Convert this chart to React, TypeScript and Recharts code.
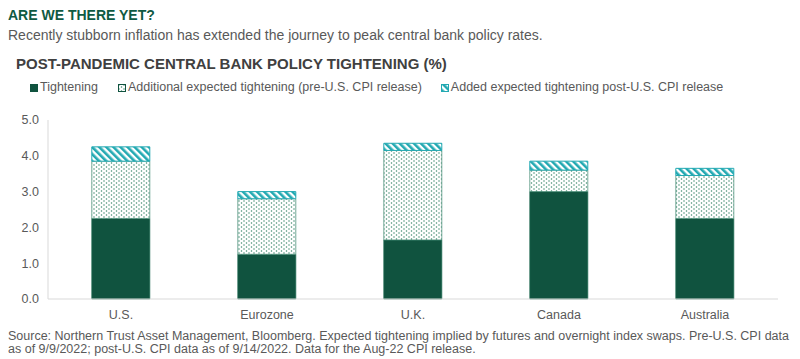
import { Bar, BarChart, XAxis, YAxis } from 'recharts'

const countries = ['U.S.', 'Eurozone', 'U.K.', 'Canada', 'Australia']
const tightening = [2.25, 1.25, 1.65, 3.0, 2.25]
const preCpiExpected = [1.6, 1.55, 2.5, 0.6, 1.2]
const postCpiAdded = [0.4, 0.2, 0.2, 0.25, 0.2]
const yTicks = [0, 1, 2, 3, 4, 5]

const seriesNames = {
  tightening: 'Tightening',
  pre: 'Additional expected tightening (pre-U.S. CPI release)',
  post: 'Added expected tightening post-U.S. CPI release',
}

const data = countries.map((country, i) => ({
  country,
  tightening: tightening[i],
  pre: preCpiExpected[i],
  post: postCpiAdded[i],
}))

const DARK_GREEN = '#10533f'
const DOT_GREEN = '#3f8a6f'
const TEAL = '#22a9b2'
const FONT = '"Liberation Sans", Arial, Helvetica, sans-serif'

function LegendIcon({ kind }: { kind: 'tightening' | 'pre' | 'post' }) {
  const fill = kind === 'tightening' ? DARK_GREEN : kind === 'pre' ? 'url(#dots)' : 'url(#hatch)'
  const stroke = kind === 'post' ? TEAL : DARK_GREEN
  return (
    <svg width={8} height={8} style={{ marginRight: 2 }}>
      <rect x={0.5} y={0.5} width={7} height={7} fill={fill} stroke={stroke} strokeWidth={1} />
    </svg>
  )
}

function App() {
  return (
    <div style={{ position: 'relative', width: 784, height: 351, fontFamily: FONT, background: '#fff' }}>
      <div style={{ position: 'absolute', left: 0, top: 0, fontSize: 14, lineHeight: '14px', fontWeight: 700, color: '#0f5a43' }}>
        ARE WE THERE YET?
      </div>
      <div style={{ position: 'absolute', left: 0, top: 20, fontSize: 14, lineHeight: '14px', color: '#595959', whiteSpace: 'nowrap' }}>
        Recently stubborn inflation has extended the journey to peak central bank policy rates.
      </div>
      <div style={{ position: 'absolute', left: 8, top: 48, fontSize: 15, lineHeight: '15px', fontWeight: 700, color: '#404040', whiteSpace: 'nowrap' }}>
        POST-PANDEMIC CENTRAL BANK POLICY TIGHTENING (%)
      </div>
      <div
        style={{
          position: 'absolute',
          left: 22,
          top: 73,
          fontSize: 12.5,
          lineHeight: '13px',
          color: '#595959',
          display: 'flex',
          alignItems: 'center',
          whiteSpace: 'nowrap',
        }}
      >
        <span style={{ display: 'flex', alignItems: 'center', marginRight: 20 }}>
          <LegendIcon kind="tightening" />
          {seriesNames.tightening}
        </span>
        <span style={{ display: 'flex', alignItems: 'center', marginRight: 19 }}>
          <LegendIcon kind="pre" />
          {seriesNames.pre}
        </span>
        <span style={{ display: 'flex', alignItems: 'center' }}>
          <LegendIcon kind="post" />
          {seriesNames.post}
        </span>
      </div>
      <div style={{ position: 'absolute', left: 0, top: 92 }}>
        <BarChart
          width={784}
          height={229}
          data={data}
          margin={{ top: 20, right: 14, bottom: 0, left: 0 }}
          barCategoryGap="30%"
        >
          <defs>
            <pattern id="dots" width={5} height={4} patternUnits="userSpaceOnUse">
              <rect width={5} height={4} fill="#fff" />
              <circle cx={1} cy={1} r={0.75} fill={DOT_GREEN} />
              <circle cx={3.5} cy={3} r={0.75} fill={DOT_GREEN} />
            </pattern>
            <pattern id="hatch" width={5} height={5} patternUnits="userSpaceOnUse" patternTransform="rotate(-45)">
              <rect width={5} height={5} fill="#fff" />
              <rect width={2.6} height={5} fill={TEAL} />
            </pattern>
          </defs>
          <XAxis
            dataKey="country"
            axisLine={{ stroke: '#d9d9d9' }}
            tickLine={false}
            tickMargin={5}
            tick={{ fill: '#595959', fontSize: 12.5, fontFamily: FONT }}
            height={30}
          />
          <YAxis
            domain={[0, 5]}
            ticks={yTicks}
            width={40}
            axisLine={{ stroke: '#d9d9d9' }}
            tickLine={false}
            tickMargin={3}
            tickFormatter={(v: number) => v.toFixed(1)}
            tick={{ fill: '#595959', fontSize: 12.5, fontFamily: FONT }}
          />
          <Bar dataKey="tightening" name={seriesNames.tightening} stackId="a" fill={DARK_GREEN} stroke="#1d6a52" strokeWidth={0.75} isAnimationActive={false} />
          <Bar dataKey="pre" name={seriesNames.pre} stackId="a" fill="url(#dots)" stroke="#4b8f78" strokeWidth={0.75} isAnimationActive={false} />
          <Bar dataKey="post" name={seriesNames.post} stackId="a" fill="url(#hatch)" stroke={TEAL} strokeWidth={1} isAnimationActive={false} />
        </BarChart>
      </div>
      <div style={{ position: 'absolute', left: 0, top: 322, fontSize: 12.5, lineHeight: '13px', color: '#595959', whiteSpace: 'nowrap' }}>
        Source: Northern Trust Asset Management, Bloomberg. Expected tightening implied by futures and overnight index swaps. Pre-U.S. CPI data
        <br />
        as of 9/9/2022; post-U.S. CPI data as of 9/14/2022. Data for the Aug-22 CPI release.
      </div>
    </div>
  )
}

export default App
